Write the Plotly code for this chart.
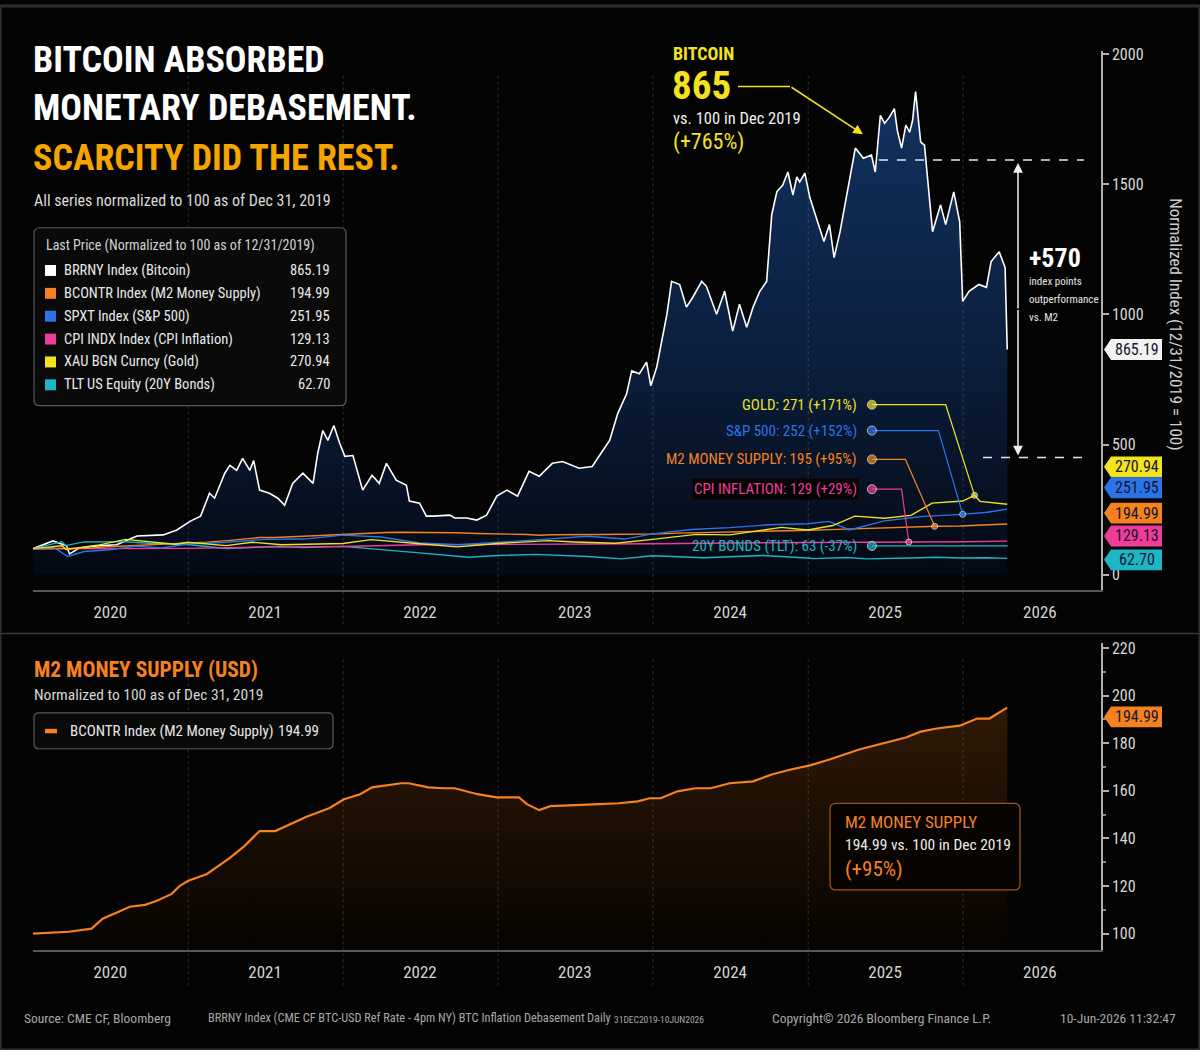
import numpy as np
import pandas as pd
import plotly.graph_objects as go

# ---------------- DATA (normalized to 100 at 2019-12-31) ----------------
btc_dates = [
    "2019-12-31", "2020-02-17", "2020-03-20", "2020-03-27", "2020-04-20", "2020-05-30", "2020-07-16", "2020-09-02", "2020-11-03", "2020-12-05",
    "2021-01-06", "2021-01-30", "2021-02-20", "2021-03-04", "2021-03-28", "2021-04-09", "2021-04-25", "2021-05-09", "2021-05-26", "2021-06-04", "2021-06-18",
    "2021-07-11", "2021-07-31", "2021-08-16", "2021-09-04", "2021-09-28", "2021-10-22", "2021-11-02", "2021-11-14", "2021-11-26", "2021-12-10", "2021-12-24",
    "2022-01-05", "2022-01-24", "2022-02-16", "2022-03-10", "2022-03-27", "2022-04-13", "2022-05-06", "2022-05-30", "2022-06-06", "2022-06-30", "2022-07-16",
    "2022-07-31", "2022-09-09", "2022-09-21", "2022-10-19", "2022-11-12", "2022-12-05", "2022-12-29",
    "2023-01-22", "2023-02-16", "2023-03-15", "2023-04-08", "2023-05-09", "2023-06-02", "2023-07-11", "2023-08-11", "2023-08-28", "2023-09-21", "2023-10-10",
    "2023-10-31", "2023-11-12", "2023-11-30", "2023-12-17", "2023-12-27",
    "2024-01-10", "2024-02-03", "2024-02-14", "2024-03-04", "2024-03-20", "2024-04-04", "2024-04-25", "2024-05-06", "2024-05-30", "2024-06-18", "2024-07-07",
    "2024-07-23", "2024-08-09", "2024-08-24", "2024-09-09", "2024-09-25", "2024-10-07", "2024-10-19", "2024-11-02", "2024-11-14", "2024-11-26", "2024-12-05",
    "2024-12-12", "2024-12-24",
    "2025-01-05", "2025-01-24", "2025-02-07", "2025-02-20", "2025-03-03", "2025-03-17", "2025-04-06", "2025-04-22", "2025-05-11", "2025-05-30", "2025-06-08",
    "2025-06-20", "2025-06-30", "2025-07-11", "2025-07-23", "2025-07-30", "2025-08-09", "2025-08-19", "2025-08-28", "2025-09-04", "2025-09-11", "2025-09-18",
    "2025-09-23", "2025-10-02", "2025-10-09", "2025-10-21", "2025-11-09", "2025-11-21", "2025-12-10", "2025-12-24", "2025-12-31",
    "2026-01-15", "2026-02-07", "2026-02-25", "2026-03-08", "2026-03-27", "2026-04-10", "2026-04-15",
]
btc_values = [
    100, 130, 111, 80, 103, 111, 115, 149, 153, 172,
    206, 225, 313, 294, 390, 420, 401, 447, 401, 439, 325,
    313, 294, 267, 351, 390, 351, 466, 554, 516, 573, 504,
    455, 458, 325, 382, 351, 428, 363, 344, 283, 275, 225,
    225, 229, 218, 218, 210, 229, 302,
    325, 302, 397, 378, 428, 435, 409, 416, 458, 516, 619,
    695, 783, 772, 817, 726,
    798, 1001, 1127, 1115, 1028, 1066, 1127, 1108, 1001, 1089, 936,
    1039, 951, 1028, 1089, 1127, 1383, 1471, 1497, 1547, 1459, 1528,
    1509, 1543,
    1448, 1356, 1280, 1345, 1218, 1318, 1497, 1639, 1600, 1612, 1547,
    1765, 1734, 1757, 1791, 1707, 1639, 1727, 1700, 1746, 1856, 1727,
    1662, 1650, 1524, 1318, 1421, 1345, 1471, 1356, 1050,
    1089, 1115, 1104, 1203, 1241, 1180, 865.19,
]

m2_dates = [
    "2019-12-31", "2020-02-10", "2020-03-25", "2020-05-18", "2020-06-13", "2020-07-21", "2020-08-16", "2020-09-21", "2020-10-19", "2020-11-23", "2020-12-12",
    "2021-01-01", "2021-02-14", "2021-04-09", "2021-05-13", "2021-06-18", "2021-07-25", "2021-10-05", "2021-11-29",
    "2022-01-03", "2022-02-10", "2022-03-10", "2022-04-13", "2022-05-18", "2022-06-04", "2022-07-21", "2022-08-26", "2022-09-21", "2022-11-14", "2022-12-29",
    "2023-02-19", "2023-03-10", "2023-04-08", "2023-05-04", "2023-08-28", "2023-10-12", "2023-11-26", "2023-12-24",
    "2024-01-19", "2024-02-28", "2024-04-10", "2024-05-16", "2024-06-30", "2024-08-24", "2024-10-07", "2024-11-21",
    "2025-01-05", "2025-02-20", "2025-05-01", "2025-06-25", "2025-08-19", "2025-09-23", "2025-10-31", "2025-12-24",
    "2026-02-03", "2026-03-04", "2026-04-15",
]
m2_values = [
    100.0, 100.3, 100.8, 102.1, 106.3, 109.2, 111.3, 112.1, 113.8, 116.7, 120.1,
    122.2, 125.1, 131.8, 136.8, 143.1, 143.1, 149.0, 152.7,
    156.5, 158.6, 161.5, 162.3, 163.2, 163.2, 161.5, 161.1, 161.1, 158.6, 157.3,
    157.3, 154.4, 151.9, 153.6, 154.4, 154.8, 155.6, 156.9,
    156.9, 159.8, 161.1, 161.1, 163.2, 164.0, 166.9, 169.0,
    170.7, 173.2, 177.4, 179.9, 182.4, 184.9, 186.2, 187.4,
    190.4, 190.4, 194.99,
]

spx_dates = [
    "2019-12-31", "2020-02-19", "2020-03-23", "2020-04-30", "2020-06-30", "2020-08-31", "2020-10-30", "2020-12-31",
    "2021-03-31", "2021-06-30", "2021-09-30", "2021-12-31", "2022-03-31", "2022-06-30", "2022-09-30", "2022-12-31",
    "2023-03-31", "2023-07-31", "2023-10-27", "2023-12-31", "2024-03-31", "2024-06-30", "2024-09-30", "2024-12-31",
    "2025-02-19", "2025-04-08", "2025-06-30", "2025-09-30", "2025-12-31", "2026-02-27", "2026-04-15",
]
spx_values = [
    100, 105, 70, 89, 96, 110, 103, 118,
    125, 136, 137, 152, 145, 122, 115, 124,
    134, 148, 137, 157, 174, 181, 192, 196,
    205, 172, 207, 224, 232, 240, 251.95,
]

gold_dates = [
    "2019-12-31", "2020-03-09", "2020-03-19", "2020-05-31", "2020-08-06", "2020-11-30", "2020-12-31",
    "2021-03-31", "2021-05-31", "2021-08-09", "2021-12-31", "2022-03-08", "2022-06-30", "2022-09-27", "2022-12-31",
    "2023-04-30", "2023-06-30", "2023-10-05", "2023-12-31", "2024-04-12", "2024-06-30", "2024-09-30", "2024-10-30", "2024-12-31",
    "2025-02-28", "2025-04-21", "2025-06-30", "2025-08-31", "2025-10-20", "2025-12-31", "2026-01-28", "2026-02-10", "2026-03-15", "2026-04-15",
]
gold_values = [
    100, 111, 97, 113, 136, 117, 125,
    112, 125, 115, 120, 135, 119, 107, 120,
    131, 126, 121, 136, 155, 153, 173, 182, 172,
    189, 225, 217, 228, 275, 283, 305, 282, 276, 270.94,
]

tlt_dates = [
    "2019-12-31", "2020-03-09", "2020-03-18", "2020-04-30", "2020-07-31", "2020-09-30", "2020-12-31",
    "2021-03-31", "2021-07-31", "2021-09-30", "2021-12-31", "2022-03-31", "2022-06-30", "2022-10-24", "2022-12-31",
    "2023-03-31", "2023-07-31", "2023-10-19", "2023-12-31", "2024-04-30", "2024-09-16", "2024-12-31",
    "2025-01-14", "2025-03-31", "2025-05-21", "2025-08-31", "2025-10-31", "2025-12-31", "2026-02-27", "2026-04-15",
]
tlt_values = [
    100, 127, 112, 126, 127, 121, 116,
    101, 109, 104, 109, 98, 84, 67, 74,
    78, 70, 61, 73, 65, 74, 64,
    62, 66, 61, 64, 67, 64, 65, 62.70,
]

cpi_dates = [
    "2019-12-31", "2020-05-31", "2020-12-31", "2021-06-30", "2021-12-31", "2022-06-30", "2022-12-31",
    "2023-06-30", "2023-12-31", "2024-06-30", "2024-12-31", "2025-06-30", "2025-12-31", "2026-04-15",
]
cpi_values = [100, 99.6, 101.3, 106.0, 108.5, 115.0, 115.6, 118.7, 119.1, 122.0, 122.6, 125.3, 126.6, 129.13]

year_labels = ["2020", "2021", "2022", "2023", "2024", "2025", "2026"]
year_label_dates = ["2020-07-01", "2021-07-01", "2022-07-01", "2023-07-01", "2024-07-01", "2025-07-01", "2026-07-01"]
year_grid_dates = ["2021-01-01", "2022-01-01", "2023-01-01", "2024-01-01", "2025-01-01", "2026-01-01"]
main_ticks = [0, 500, 1000, 1500, 2000]
m2_ticks = [100, 120, 140, 160, 180, 200, 220]

legend_names = ["BRRNY Index (Bitcoin)", "BCONTR Index (M2 Money Supply)", "SPXT Index (S&P 500)",
                "CPI INDX Index (CPI Inflation)", "XAU BGN Curncy (Gold)", "TLT US Equity (20Y Bonds)"]

# ---------------- STYLE / LAYOUT ----------------
W, H = 1200, 1050
FONT = "Liberation Sans Narrow, Roboto Condensed, DejaVu Sans Condensed, Arial Narrow, sans-serif"
BG = "#040404"
C_BTC = "#ffffff"
C_M2 = "#F5821F"
C_SPX = "#2B74E8"
C_CPI = "#EE3C98"
C_GOLD = "#ECE226"
C_TLT = "#1CB6C6"
C_TITLE_GOLD = "#F5A400"
C_YEL = "#F2E31C"

X_RANGE = ["2020-01-01", "2026-11-22"]
PLOT_L, PLOT_R = 33, 1101
MAIN_TOP, MAIN_BOT = 45, 587
MAIN_RANGE = [-57.3, 2013]
M2_TOP, M2_BOT = 641, 949
M2_RANGE = [93.3, 222.0]


def X(px):
    return px / W


def Y(py):
    return 1 - py / H


def px_main(v):
    return MAIN_BOT - (v - MAIN_RANGE[0]) / (MAIN_RANGE[1] - MAIN_RANGE[0]) * (MAIN_BOT - MAIN_TOP)


def v_main(py):
    return MAIN_RANGE[0] + (MAIN_BOT - py) / (MAIN_BOT - MAIN_TOP) * (MAIN_RANGE[1] - MAIN_RANGE[0])


def interp(dates, vals, d):
    t = pd.to_datetime(dates).asi8
    return float(np.interp(pd.Timestamp(d).value, t, vals))


fig = go.Figure()

# Bitcoin area
fig.add_trace(go.Scatter(
    x=btc_dates, y=btc_values, mode="lines", line=dict(color=C_BTC, width=1.6),
    fill="tozeroy",
    fillgradient=dict(type="vertical", start=0, stop=1850,
                      colorscale=[[0, "#040912"], [0.45, "#0b1e3d"], [1, "#12325f"]]),
    xaxis="x", yaxis="y", showlegend=False, hoverinfo="skip"))

for d, v, c in [(tlt_dates, tlt_values, C_TLT), (cpi_dates, cpi_values, C_CPI), (m2_dates, m2_values, C_M2),
                (spx_dates, spx_values, C_SPX), (gold_dates, gold_values, C_GOLD)]:
    fig.add_trace(go.Scatter(x=d, y=v, mode="lines", line=dict(color=c, width=1.4),
                             xaxis="x", yaxis="y", showlegend=False, hoverinfo="skip"))

# M2 panel
fig.add_trace(go.Scatter(
    x=m2_dates, y=m2_values, mode="lines", line=dict(color=C_M2, width=2.2),
    fill="tozeroy",
    fillgradient=dict(type="vertical", start=M2_RANGE[0], stop=195,
                      colorscale=[[0, "#060301"], [1, "#301905"]]),
    xaxis="x2", yaxis="y2", showlegend=False, hoverinfo="skip"))

# ---------------- CALLOUTS ----------------
LABEL_DOT_DATE = "2025-05-31"
callouts = [
    ("GOLD", gold_dates, gold_values, C_GOLD, 401, "2025-11-21", "2026-01-28"),
    ("S&P 500", spx_dates, spx_values, C_SPX, 427, "2025-11-04", "2025-12-31"),
    ("M2 MONEY SUPPLY", m2_dates, m2_values, C_M2, 456, "2025-08-18", "2025-10-26"),
    ("CPI INFLATION", cpi_dates, cpi_values, C_CPI, 486, "2025-08-09", "2025-08-26"),
    ("20Y BONDS (TLT)", tlt_dates, tlt_values, C_TLT, 543, None, "2026-04-16"),
]
ann = []


def T(x, y, text, size, color, bold=False, xa="left", **kw):
    ann.append(dict(xref="paper", yref="paper", x=X(x), y=Y(y), text=text, showarrow=False,
                    xanchor=xa, yanchor="middle",
                    font=dict(family=FONT, size=size, color=color, weight="bold" if bold else "normal"), **kw))


for name, d, v, c, ly, elbow, target in callouts:
    last = v[-1]
    pct = round(last - 100)
    sign = "+" if pct >= 0 else "-"
    label = f"{name}: {round(last)} ({sign}{abs(pct)}%)"
    lv = v_main(ly)
    if elbow is None:
        xs, ys, sz = [LABEL_DOT_DATE, target], [lv, lv], [9, 0]
    else:
        xs = [LABEL_DOT_DATE, elbow, target]
        ys = [lv, lv, interp(d, v, target)]
        sz = [9, 0, 6]
    fig.add_trace(go.Scatter(x=xs, y=ys, mode="lines+markers", line=dict(color=c, width=1.2),
                             marker=dict(color=c, size=sz), xaxis="x", yaxis="y",
                             showlegend=False, hoverinfo="skip"))
    extra = dict(bgcolor=BG) if name == "CPI INFLATION" else {}
    T(859, ly, label, 15, c, xa="right", **extra)

# ---------------- SHAPES ----------------
shapes = []


def rrect(x0, y0, x1, y1, r, fill, line, width=1):
    p = (f"M {X(x0 + r)},{Y(y0)} L {X(x1 - r)},{Y(y0)} Q {X(x1)},{Y(y0)} {X(x1)},{Y(y0 + r)} "
         f"L {X(x1)},{Y(y1 - r)} Q {X(x1)},{Y(y1)} {X(x1 - r)},{Y(y1)} L {X(x0 + r)},{Y(y1)} "
         f"Q {X(x0)},{Y(y1)} {X(x0)},{Y(y1 - r)} L {X(x0)},{Y(y0 + r)} Q {X(x0)},{Y(y0)} {X(x0 + r)},{Y(y0)} Z")
    shapes.append(dict(type="path", xref="paper", yref="paper", path=p, fillcolor=fill,
                       line=dict(color=line, width=width), layer="above"))


def prect(x0, y0, x1, y1, fill):
    shapes.append(dict(type="rect", xref="paper", yref="paper", x0=X(x0), x1=X(x1), y0=Y(y1), y1=Y(y0),
                       fillcolor=fill, line=dict(width=0), layer="above"))


def pline(x0, y0, x1, y1, color, width=1, dash="solid"):
    shapes.append(dict(type="line", xref="paper", yref="paper", x0=X(x0), x1=X(x1), y0=Y(y0), y1=Y(y1),
                       line=dict(color=color, width=width, dash=dash), layer="above"))


def tag(py, fill, text, textcolor="#151530", x0=1104, x1=1162, h=21):
    p = (f"M {X(x0)},{Y(py)} L {X(x0 + 7)},{Y(py - h / 2)} L {X(x1)},{Y(py - h / 2)} "
         f"L {X(x1)},{Y(py + h / 2)} L {X(x0 + 7)},{Y(py + h / 2)} Z")
    shapes.append(dict(type="path", xref="paper", yref="paper", path=p, fillcolor=fill,
                       line=dict(width=0), layer="above"))
    T((x0 + 7 + x1) / 2, py, text, 16, textcolor, xa="center")


# frame + separator
shapes.append(dict(type="rect", xref="paper", yref="paper", x0=0, x1=1, y0=0, y1=1,
                   line=dict(color="#2e2e2e", width=3), fillcolor="rgba(0,0,0,0)", layer="above"))
pline(0, 631, W, 631, "#3a3a3a", 1.5)

# dotted year gridlines
for gd in year_grid_dates:
    shapes.append(dict(type="line", xref="x", yref="paper", x0=gd, x1=gd, y0=Y(70), y1=Y(625),
                       line=dict(color="rgba(255,255,255,0.17)", width=1, dash="dot"), layer="above"))
    shapes.append(dict(type="line", xref="x2", yref="paper", x0=gd, x1=gd, y0=Y(657), y1=Y(985),
                       line=dict(color="rgba(255,255,255,0.17)", width=1, dash="dot"), layer="above"))

# legend box (top)
rrect(34, 223, 346, 402, 6, "#0a0a0a", "#5a5a5a", 1.2)
leg_colors = [C_BTC, C_M2, C_SPX, C_CPI, C_YEL, C_TLT]
leg_vals = [btc_values[-1], m2_values[-1], spx_values[-1], cpi_values[-1], gold_values[-1], tlt_values[-1]]
T(44, 241, "Last Price (Normalized to 100 as of 12/31/2019)", 14, "#d2d2d2")
for i, (nm, c, val) in enumerate(zip(legend_names, leg_colors, leg_vals)):
    ry = 266 + i * 23
    prect(45, ry - 5.5, 56, ry + 5.5, c)
    T(62, ry, nm, 14.5, "#e8e8e8")
    T(332, ry, f"{val:.2f}", 14.5, "#e8e8e8", xa="right")

# Bitcoin call-out arrow
pline(738, 81, 790, 81, C_YEL, 1.5)
ann.append(dict(xref="paper", yref="paper", x=X(863), y=Y(129), ax=-73, ay=-48, text="", showarrow=True,
                arrowhead=2, arrowsize=1.3, arrowwidth=1.5, arrowcolor=C_YEL))

# outperformance bracket
pline(879, 155, 1084, 155, "#e8e8e8", 1.5, "dash")
pline(983, 454, 1084, 454, "#e8e8e8", 1.5, "dash")
ann.append(dict(xref="paper", yref="paper", x=X(1018), y=Y(158), ax=0, ay=147, text="", showarrow=True,
                arrowhead=2, arrowsize=1.3, arrowwidth=1.5, arrowcolor="#f0f0f0"))
ann.append(dict(xref="paper", yref="paper", x=X(1018), y=Y(452), ax=0, ay=-147, text="", showarrow=True,
                arrowhead=2, arrowsize=1.3, arrowwidth=1.5, arrowcolor="#f0f0f0"))

# value tags (main)
tag(px_main(btc_values[-1]), "#f2f2f2", f"{btc_values[-1]:.2f}")
tag(463.5, C_YEL, f"{gold_values[-1]:.2f}")
tag(484.5, C_SPX, f"{spx_values[-1]:.2f}")
tag(510, C_M2, f"{m2_values[-1]:.2f}")
tag(533, C_CPI, f"{cpi_values[-1]:.2f}")
tag(557, C_TLT, f"{tlt_values[-1]:.2f}")

# M2 panel legend + box + tag
rrect(34, 711, 333, 747, 5, "#0a0a0a", "#5a5a5a", 1.2)
prect(45, 727, 57, 731.5, C_M2)
T(68, 729, "BCONTR Index (M2 Money Supply)", 15, "#e8e8e8")
T(321, 729, f"{m2_values[-1]:.2f}", 15, "#e8e8e8", xa="right")
rrect(830, 802, 1020, 889, 6, "#070402", "#9a5512", 1.3)
tag(715, C_M2, f"{m2_values[-1]:.2f}")

# ---------------- TEXT ----------------
T(31, 54, "BITCOIN ABSORBED", 36, "#ffffff", bold=True)
T(31, 103, "MONETARY DEBASEMENT.", 36, "#ffffff", bold=True)
T(31, 153, "SCARCITY DID THE REST.", 36, C_TITLE_GOLD, bold=True)
T(32, 196, "All series normalized to 100 as of Dec 31, 2019", 16, "#dadada")

T(671, 48, "BITCOIN", 18, C_YEL, bold=True)
T(670, 80, f"{btc_values[-1]:.0f}", 39, C_YEL, bold=True)
T(671, 113, "vs. 100 in Dec 2019", 16.5, "#f0f0f0")
T(671, 137, f"(+{btc_values[-1] - 100:.0f}%)", 22, C_YEL)

T(1027, 253, "+570", 26, "#ffffff", bold=True)
T(1027, 277, "index points", 11, "#e6e6e6")
T(1027, 295, "outperformance", 11, "#e6e6e6")
T(1027, 313, "vs. M2", 11, "#e6e6e6")

ann.append(dict(xref="paper", yref="paper", x=X(1176), y=Y(320), text="Normalized Index (12/31/2019 = 100)",
                showarrow=False, textangle=90, xanchor="center", yanchor="middle",
                font=dict(family=FONT, size=17, color="#cfcfcf")))

T(32, 667, "M2 MONEY SUPPLY (USD)", 21.5, C_M2, bold=True)
T(32, 693, "Normalized to 100 as of Dec 31, 2019", 15.5, "#d6d6d6")

T(843, 821, "M2 MONEY SUPPLY", 17, C_M2)
T(843, 844, f"{m2_values[-1]:.2f} vs. 100 in Dec 2019", 15.5, "#ececec")
T(843, 868, f"(+{m2_values[-1] - 100:.0f}%)", 21, C_M2)

# footer
FC = "#a8a8a8"
T(22, 1018, "Source: CME CF, Bloomberg", 13.5, FC)
T(206, 1018, "BRRNY Index (CME CF BTC-USD Ref Rate - 4pm NY) BTC Inflation Debasement", 12.3, FC)
T(585, 1018, "Daily", 12.3, FC)
T(612, 1019, "31DEC2019-10JUN2026", 9.5, FC)
T(770, 1018, "Copyright\u00a9 2026 Bloomberg Finance L.P.", 13.5, FC)
T(1178, 1018, "10-Jun-2026 11:32:47", 13.5, FC, xa="right")

# ---------------- AXES ----------------
xcommon = dict(type="date", range=X_RANGE, domain=[X(PLOT_L), X(PLOT_R)], tickmode="array",
               tickvals=year_label_dates, ticktext=year_labels, showgrid=False, zeroline=False,
               showline=True, linecolor="#575757", linewidth=1.5, ticks="", ticklabelstandoff=6,
               tickfont=dict(family=FONT, size=17, color="#d4d4d4"), fixedrange=True)
ycommon = dict(side="right", showgrid=False, zeroline=False, showline=True, linecolor="#b0b0b0",
               linewidth=1.5, ticks="outside", ticklen=6, tickcolor="#b0b0b0", tickwidth=1.5,
               tickfont=dict(family=FONT, size=16, color="#d8d8d8"), fixedrange=True, tickmode="array")

fig.update_layout(
    width=W, height=H, margin=dict(l=0, r=0, t=0, b=0),
    paper_bgcolor=BG, plot_bgcolor=BG, hovermode=False, showlegend=False,
    xaxis=dict(anchor="y", **xcommon),
    yaxis=dict(anchor="x", domain=[Y(MAIN_BOT), Y(MAIN_TOP)], range=MAIN_RANGE, tickvals=main_ticks, **ycommon),
    xaxis2=dict(anchor="y2", **xcommon),
    yaxis2=dict(anchor="x2", domain=[Y(M2_BOT), Y(M2_TOP)], range=M2_RANGE, tickvals=m2_ticks,
                minor=dict(tickmode="linear", tick0=100, dtick=10, ticks="outside", ticklen=3,
                           tickcolor="#8a8a8a"), **ycommon),
    shapes=shapes, annotations=ann,
)

fig.write_html("out.html", config={"displayModeBar": False},
               post_script="document.body.style.margin='0';document.body.style.overflow='hidden';")
